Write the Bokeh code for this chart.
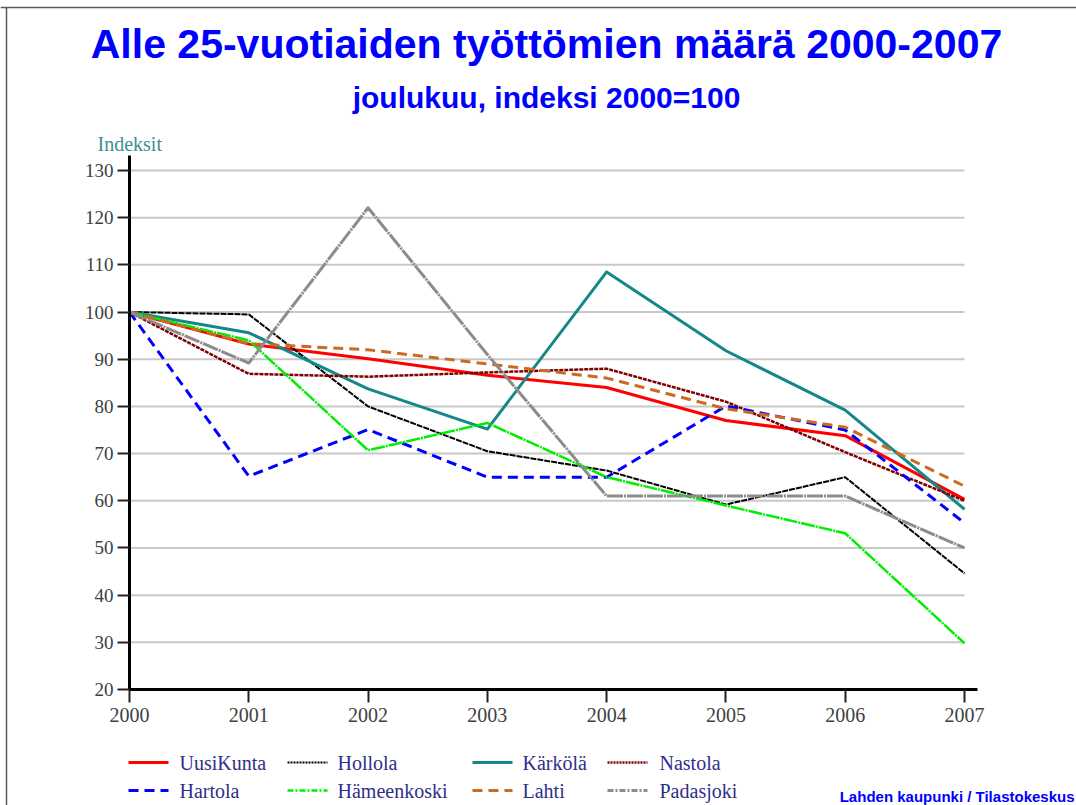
from bokeh.plotting import figure
from bokeh.models import Range1d, FixedTicker, Label
from bokeh.embed import file_html
from bokeh.resources import INLINE
from bokeh.core.properties import value

# ---------------- data ----------------
years = [2000, 2001, 2002, 2003, 2004, 2005, 2006, 2007]
uusikunta = [100, 93.2, 90.1, 86.6, 84.0, 77.0, 73.8, 60.3]
hollola = [100, 99.5, 80.0, 70.5, 66.4, 59.2, 65.0, 44.6]
karkola = [100, 95.6, 83.7, 75.2, 108.5, 91.8, 79.2, 58.2]
nastola = [100, 86.9, 86.3, 87.2, 88.0, 81.0, 70.3, 60.0]
hartola = [100, 65.2, 75.1, 65.0, 65.0, 80.1, 75.0, 55.3]
hameenkoski = [100, 94.0, 70.7, 76.5, 65.0, 59.0, 53.1, 29.8]
lahti = [100, 93.3, 92.0, 89.0, 86.0, 79.5, 75.6, 63.1]
padasjoki = [100, 89.2, 122.1, 91.0, 61.0, 61.0, 61.0, 50.0]
y_ticks = [20, 30, 40, 50, 60, 70, 80, 90, 100, 110, 120, 130]

names = ["UusiKunta", "Hollola", "Kärkölä", "Nastola",
         "Hartola", "Hämeenkoski", "Lahti", "Padasjoki"]
series = [uusikunta, hollola, karkola, nastola, hartola, hameenkoski, lahti, padasjoki]

title_text = "Alle 25-vuotiaiden työttömien määrä 2000-2007"
subtitle_text = "joulukuu, indeksi 2000=100"
ylabel_text = "Indeksit"
source_text = "Lahden kaupunki / Tilastokeskus"

# ---------------- styles ----------------
colors = ["#ff0000", "#000000", "#138888", "#800000",
          "#0000ff", "#00ee00", "#cc6a20", "#8c8c8c"]
dashes = ["solid", "6 1", "solid", "4 1", "10 6", "14 1 2 1", "10 6", "16 1 2 1"]
leg_dashes = ["solid", "2 1", "solid", "2 1", "10 6", "6 2 2 2", "10 6", "6 2 2 2"]
widths = [3, 2, 3, 2.5, 3, 2.5, 3, 3]

W, H = 1076, 805
# page pixel geometry: where the first/last year and the 20/130 ticks sit
PX_X0, PX_X1 = 129, 964
PX_Y20, PX_Y130 = 689, 170
sx = (PX_X1 - PX_X0) / (years[-1] - years[0])
sy = (PX_Y20 - PX_Y130) / (y_ticks[-1] - y_ticks[0])


def dx(px):
    return years[0] + (px - PX_X0) / sx


def dy(py):
    return y_ticks[0] + (PX_Y20 - py) / sy


p = figure(width=W, height=H, x_range=Range1d(dx(0), dx(W)), y_range=Range1d(dy(H), dy(0)),
           output_backend="svg", toolbar_location=None, title=None, min_border=0)
p.outline_line_color = None
p.grid.visible = False
p.background_fill_color = "white"
p.border_fill_color = "white"

# frame line around the picture (top and left edges)
p.segment(x0=[dx(0), dx(6)], y0=[dy(7), dy(7)], x1=[dx(W), dx(6)], y1=[dy(7), dy(H)],
          line_color="#5a5a5a", line_width=1.5)

# grid lines (ending at the last year)
gy = y_ticks[1:]
p.segment(x0=[years[0]] * len(gy), x1=[years[-1]] * len(gy), y0=gy, y1=gy,
          line_color="#c8c8c8", line_width=2, level="underlay")

p.xaxis.fixed_location = y_ticks[0]
p.xaxis.bounds = (years[0], dx(977))
p.yaxis.fixed_location = years[0]
p.yaxis.bounds = (y_ticks[0], dy(155))

for ax, ticks, tout, sto, fs in ((p.xaxis, years, 13, 5, "20px"),
                                 (p.yaxis, y_ticks, 12, 4, "19px")):
    ax.ticker = FixedTicker(ticks=ticks)
    ax.axis_line_width = 3
    ax.axis_line_color = "black"
    ax.major_tick_line_width = 2
    ax.major_tick_line_color = "#222222"
    ax.major_tick_out = tout
    ax.major_tick_in = 0
    ax.minor_tick_line_color = None
    ax.major_label_text_font = "Liberation Serif"
    ax.major_label_text_font_size = fs
    ax.major_label_text_color = "#404040"
    ax.major_label_standoff = sto

for ys, c, d, w in zip(series, colors, dashes, widths):
    p.line(years, ys, line_color=c, line_dash=d, line_width=w, line_join="round")

p.add_layout(Label(x=dx(546), y=dy(43), text=title_text, text_font="Liberation Sans",
                   text_font_size="41px", text_font_style="bold", text_color="#0000ff",
                   text_align="center", text_baseline="middle"))
p.add_layout(Label(x=dx(546), y=dy(97), text=subtitle_text, text_font="Liberation Sans",
                   text_font_size="30px", text_font_style="bold", text_color="#0000ff",
                   text_align="center", text_baseline="middle"))
p.add_layout(Label(x=dx(97), y=dy(143), text=ylabel_text, text_font="Liberation Serif",
                   text_font_size="20px", text_color="#3d8f8f",
                   text_align="left", text_baseline="middle"))

# ---------------- legend ----------------
col_sample = [128, 287, 472, 607]
col_text = [179, 337, 522, 659]
row_y = [762, 790]
for i, (nm, c, d, w) in enumerate(zip(names, colors, leg_dashes, widths)):
    r, k = divmod(i, 4)
    p.line([dx(col_sample[k]), dx(col_sample[k] + 40)], [dy(row_y[r]), dy(row_y[r])],
           line_color=c, line_dash=d, line_width=w)
    p.text(x=[dx(col_text[k])], y=[dy(row_y[r])], text=[nm], text_font=value("Liberation Serif"),
           text_font_size="20px", text_color="#2f2f8a", text_baseline="middle", text_align="left")

p.text(x=[dx(1074)], y=[dy(796)], text=[source_text], text_font=value("Liberation Sans"),
       text_font_size="15px", text_font_style="bold", text_color="#0000ff",
       text_align="right", text_baseline="alphabetic")

open("out.html", "w").write(file_html(p, INLINE))
